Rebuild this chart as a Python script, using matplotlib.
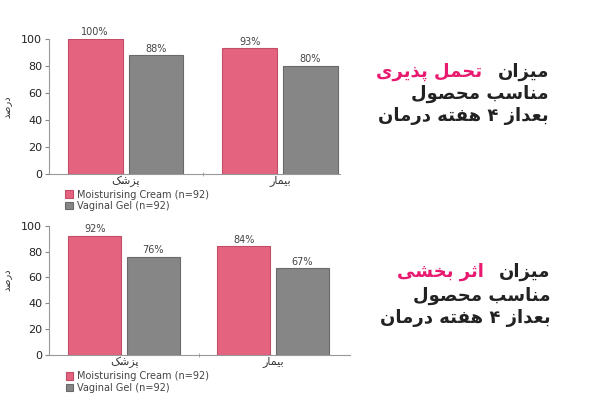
import matplotlib
matplotlib.use("Agg")
import matplotlib.pyplot as plt

# ---------------- data ----------------
categories = ["پزشک", "بیمار"]
series_names = ["Moisturising Cream (n=92)", "Vaginal Gel (n=92)"]
tolerability_cream = [100, 93]
tolerability_gel = [88, 80]
efficacy_cream = [92, 84]
efficacy_gel = [76, 67]
yticks = [0, 20, 40, 60, 80, 100]
ylabel = "درصد"
title1 = ["میزان ", "تحمل پذیری"]
title2 = ["میزان ", "اثر بخشی"]
line2 = "مناسب محصول"
line3 = "بعداز ۴ هفته درمان"

PINK = "#e4637f"
PINK_EDGE = "#c24d69"
GRAY = "#868686"
GRAY_EDGE = "#6a6a6a"
ACCENT = "#e8196e"

# ------------- minimal Persian shaping -------------
FORMS = {
    "ا": (0xFE8D, 0xFE8E, None, None),
    "ب": (0xFE8F, 0xFE90, 0xFE91, 0xFE92),
    "پ": (0xFB56, 0xFB57, 0xFB58, 0xFB59),
    "ت": (0xFE95, 0xFE96, 0xFE97, 0xFE98),
    "ث": (0xFE99, 0xFE9A, 0xFE9B, 0xFE9C),
    "ح": (0xFEA1, 0xFEA2, 0xFEA3, 0xFEA4),
    "خ": (0xFEA5, 0xFEA6, 0xFEA7, 0xFEA8),
    "د": (0xFEA9, 0xFEAA, None, None),
    "ذ": (0xFEAB, 0xFEAC, None, None),
    "ر": (0xFEAD, 0xFEAE, None, None),
    "ز": (0xFEAF, 0xFEB0, None, None),
    "س": (0xFEB1, 0xFEB2, 0xFEB3, 0xFEB4),
    "ش": (0xFEB5, 0xFEB6, 0xFEB7, 0xFEB8),
    "ص": (0xFEB9, 0xFEBA, 0xFEBB, 0xFEBC),
    "ع": (0xFEC9, 0xFECA, 0xFECB, 0xFECC),
    "ف": (0xFED1, 0xFED2, 0xFED3, 0xFED4),
    "ک": (0xFB8E, 0xFB8F, 0xFB90, 0xFB91),
    "ل": (0xFEDD, 0xFEDE, 0xFEDF, 0xFEE0),
    "م": (0xFEE1, 0xFEE2, 0xFEE3, 0xFEE4),
    "ن": (0xFEE5, 0xFEE6, 0xFEE7, 0xFEE8),
    "ه": (0xFEE9, 0xFEEA, 0xFEEB, 0xFEEC),
    "و": (0xFEED, 0xFEEE, None, None),
    "ی": (0xFBFC, 0xFBFD, 0xFBFE, 0xFBFF),
}


def shape(text):
    out = []
    n = len(text)
    for i, ch in enumerate(text):
        if ch not in FORMS:
            out.append(ch)
            continue
        iso, fin, ini, med = FORMS[ch]
        prev = text[i - 1] if i > 0 else ""
        nxt = text[i + 1] if i < n - 1 else ""
        pj = prev in FORMS and FORMS[prev][2] is not None
        nj = nxt in FORMS and ini is not None
        if pj and nj:
            code = med
        elif pj:
            code = fin
        elif nj:
            code = ini
        else:
            code = iso
        out.append(chr(code))
    return "".join(out)[::-1]


plt.rcParams["font.family"] = ["DejaVu Sans"]

fig = plt.figure(figsize=(6, 4), dpi=100)


def draw(ax, cream, gel, xlim, leg_y):
    x = list(range(len(categories)))
    w = 0.355
    off = 0.197
    b1 = ax.bar([v - off for v in x], cream, w, color=PINK, edgecolor=PINK_EDGE, linewidth=0.8,
                label=series_names[0])
    b2 = ax.bar([v + off for v in x], gel, w, color=GRAY, edgecolor=GRAY_EDGE, linewidth=0.8,
                label=series_names[1])
    for bars, vals in ((b1, cream), (b2, gel)):
        for r, v in zip(bars, vals):
            ax.text(r.get_x() + r.get_width() / 2, v + 1.2, f"{v}%", ha="center", va="bottom",
                    fontsize=7, color="#444444")
    ax.set_xlim(*xlim)
    ax.set_ylim(0, 100)
    ax.set_yticks(yticks)
    ax.tick_params(axis="y", labelsize=8, length=3, color="#888888", labelcolor="#222222", pad=2)
    ax.set_xticks(x)
    ax.set_xticklabels([shape(c) for c in categories], fontsize=8, color="#333333")
    ax.tick_params(axis="x", length=0, pad=1)
    ax.set_xticks([0.5], minor=True)
    ax.tick_params(axis="x", which="minor", length=3, direction="inout", color="#999999")
    for s in ("top", "right"):
        ax.spines[s].set_visible(False)
    for s in ("left", "bottom"):
        ax.spines[s].set_color("#999999")
        ax.spines[s].set_linewidth(0.8)
    ax.set_ylabel(shape(ylabel), fontsize=7, color="#333333")
    leg = ax.legend(loc="upper left", bbox_to_anchor=(0.055, leg_y), frameon=False, fontsize=7,
                    handlelength=0.8, handleheight=0.8, handletextpad=0.4, labelspacing=0.15,
                    borderpad=0, borderaxespad=0)
    for t in leg.get_texts():
        t.set_color("#444444")


ax1 = fig.add_axes([0.0817, 0.565, 0.485, 0.3375])
draw(ax1, tolerability_cream, tolerability_gel, (-0.495, 1.388), -0.115)
ax1.yaxis.set_label_coords(-0.125, 0.5)

ax2 = fig.add_axes([0.0817, 0.1125, 0.502, 0.3233])
draw(ax2, efficacy_cream, efficacy_gel, (-0.503, 1.517), -0.125)
ax2.yaxis.set_label_coords(-0.12, 0.58)


def title_block(right_x, ys, first):
    fs = 13
    t1 = fig.text(right_x, ys[0], shape(first[0].strip()), ha="right", va="center", fontsize=fs,
                  fontweight="bold", color="#222222")
    fig.canvas.draw()
    bb = t1.get_window_extent()
    left = bb.x0 / fig.bbox.width - 0.025
    fig.text(left, ys[0], shape(first[1]), ha="right", va="center", fontsize=fs,
             fontweight="bold", color=ACCENT)
    fig.text(right_x, ys[1], shape(line2), ha="right", va="center", fontsize=fs,
             fontweight="bold", color="#222222")
    fig.text(right_x, ys[2], shape(line3), ha="right", va="center", fontsize=fs,
             fontweight="bold", color="#222222")


title_block(0.915, [1 - 72 / 400, 1 - 94 / 400, 1 - 116 / 400], title1)
title_block(0.918, [1 - 272 / 400, 1 - 296 / 400, 1 - 318 / 400], title2)

fig.savefig("out.png", dpi=100)
